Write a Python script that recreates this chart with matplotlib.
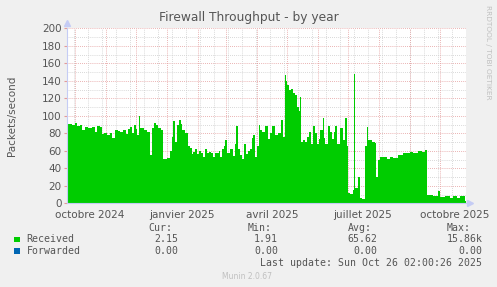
import pandas as pd
import matplotlib
matplotlib.use("Agg")
import matplotlib.pyplot as plt

# Données (jours depuis le 23/09/2024, paquets/s)
debut = "2024-09-23"
jours = [0, 1, 5, 8, 10, 13, 15, 18, 21, 25, 28, 30, 33, 35, 37, 40, 43, 45, 48, 51,
         53, 56, 59, 61, 63, 65, 67, 69, 70, 72, 73, 77, 80, 83, 85, 87, 89, 91, 94, 96,
         100, 103, 105, 106, 108, 110, 112, 114, 115, 118, 121, 123, 125, 126, 128, 130, 132, 134, 136, 138,
         140, 142, 144, 146, 148, 150, 152, 153, 155, 157, 158, 160, 163, 166, 168, 169, 171, 173, 175, 177,
         179, 181, 183, 185, 186, 188, 190, 192, 193, 195, 198, 201, 203, 205, 208, 211, 214, 216, 218, 219,
         220, 222, 224, 226, 228, 230, 232, 233, 234, 236, 238, 240, 242, 244, 246, 248, 250, 252, 253, 256,
         257, 258, 261, 263, 265, 267, 268, 270, 273, 276, 278, 280, 281, 283, 286, 287, 288, 291, 293, 295,
         298, 300, 301, 305, 308, 309, 311, 313, 320, 323, 326, 331, 336, 340, 343, 346, 351, 355, 358, 360,
         366, 371, 373, 378, 383, 386, 390, 393, 398]
recus = [86, 91, 90, 92, 88, 89, 84, 87, 86, 87, 82, 88, 87, 79, 80, 78, 80, 75, 84, 83,
         81, 84, 79, 85, 87, 80, 90, 85, 78, 100, 86, 84, 82, 55, 86, 92, 89, 86, 84, 51,
         52, 60, 76, 94, 70, 89, 95, 91, 84, 80, 66, 63, 56, 59, 62, 56, 60, 58, 53, 62,
         57, 59, 58, 53, 57, 58, 60, 53, 62, 66, 72, 58, 62, 54, 68, 88, 62, 55, 51, 68,
         56, 60, 62, 75, 78, 53, 65, 89, 84, 82, 88, 74, 80, 88, 78, 80, 95, 76, 147, 140,
         135, 130, 131, 126, 124, 110, 105, 122, 70, 72, 70, 76, 82, 68, 88, 80, 68, 74, 84, 97,
         75, 68, 88, 82, 74, 82, 88, 68, 86, 72, 97, 66, 12, 11, 15, 148, 17, 30, 6, 5,
         66, 87, 72, 70, 69, 30, 50, 53, 51, 53, 52, 55, 58, 57, 59, 58, 60, 59, 61, 9,
         8, 14, 7, 8, 6, 8, 6, 8, 3]
fin = 399

series = ["Received", "Forwarded"]
couleurs = ["#00CC00", "#0066B3"]
cur = ["2.15", "0.00"]
mini = ["1.91", "0.00"]
moy = ["65.62", "0.00"]
maxi = ["15.86k", "0.00"]

t0 = pd.Timestamp(debut)
dates = [t0 + pd.Timedelta(days=j) for j in jours] + [t0 + pd.Timedelta(days=fin)]
valeurs = recus + [recus[-1]]

W, H = 497, 287
fig = plt.figure(figsize=(W / 100, H / 100), dpi=100, facecolor="#F0F0F0")
ax = fig.add_axes([67 / W, 1 - 203.3 / H, 399 / W, 175 / H])
ax.set_facecolor("white")

ax.fill_between(dates, valeurs, step="post", color=couleurs[0], linewidth=0, zorder=2)

ax.set_xlim(t0, t0 + pd.Timedelta(days=fin))
ax.set_ylim(0, 200)

# grille façon rrdtool (derrière la surface)
gris, rouge = "#CCCCCC", "#E39A9A"
tirets = (0, (1, 1.5))
for y in range(10, 200, 20):
    ax.axhline(y, color=gris, lw=0.6, ls=tirets, zorder=1)
for y in range(20, 201, 20):
    ax.axhline(y, color=rouge, lw=0.6, ls=tirets, zorder=1)
for d in pd.date_range("2024-09-30", "2025-10-27", freq="14D"):
    ax.axvline(d, color=gris, lw=0.6, ls=tirets, zorder=1)
for d in pd.date_range("2024-10-01", "2025-10-27", freq="MS"):
    ax.axvline(d, color=rouge, lw=0.6, ls=tirets, zorder=1)

ax.set_yticks(range(0, 201, 20))
ax.tick_params(axis="y", length=2, color=rouge, labelsize=7.5, labelcolor="#555555", pad=2)
etiquettes = ["2024-10-16", "2025-01-16", "2025-04-16", "2025-07-16", "2025-10-16"]
ax.set_xticks([pd.Timestamp(e) for e in etiquettes])
ax.set_xticklabels(["octobre 2024", "janvier 2025", "avril 2025", "juillet 2025", "octobre 2025"])
ax.tick_params(axis="x", length=0, labelsize=7.5, labelcolor="#555555", pad=4.5)

for s in ["top", "right"]:
    ax.spines[s].set_visible(False)
for s in ["left", "bottom"]:
    ax.spines[s].set_color("#C5CCF5")
    ax.spines[s].set_linewidth(0.8)
ax.plot(0, 1.03, "^", color="#C5CCF5", ms=4, transform=ax.transAxes, clip_on=False)
ax.plot(1.01, 0, ">", color="#C5CCF5", ms=4, transform=ax.transAxes, clip_on=False)

ax.set_ylabel("Packets/second", fontsize=7.5, color="#555555")
ax.yaxis.set_label_coords(-0.125, 0.5)

fig.text(248.5 / W, 1 - 18 / H, "Firewall Throughput - by year", ha="center", va="center",
         fontsize=8.8, color="#555555")
fig.text(488 / W, 1 - 52 / H, "RRDTOOL / TOBI OETIKER", rotation=270, ha="center", va="center",
         fontsize=5.3, color="#C0C0C0")

mono = "DejaVu Sans Mono"
fs = 7.1
def px(x, y):
    return x / W, 1 - y / H

for lab, xr in zip(["Cur:", "Min:", "Avg:", "Max:"], [172, 272, 372, 471]):
    fig.text(*px(xr, 228), lab, ha="right", va="center", family=mono, fontsize=fs, color="#555555")
for i, nom in enumerate(series):
    yy = 239.5 + i * 11.7
    fig.patches.append(plt.Rectangle(px(14, yy + 2.7), 5.5 / W, 5.5 / H, transform=fig.transFigure,
                                     facecolor=couleurs[i], edgecolor="none"))
    fig.text(*px(26.5, yy), nom, ha="left", va="center", family=mono, fontsize=fs, color="#555555")
    for v, xr in zip([cur[i], mini[i], moy[i], maxi[i]], [178, 278, 377.5, 482.5]):
        fig.text(*px(xr, yy), v, ha="right", va="center", family=mono, fontsize=fs, color="#555555")
fig.text(*px(482.5, 263), "Last update: Sun Oct 26 02:00:26 2025", ha="right", va="center",
         family=mono, fontsize=fs, color="#555555")
fig.text(*px(247.5, 276.5), "Munin 2.0.67", ha="center", va="center", fontsize=5.5, color="#C0C0C0")

fig.savefig("out.png", dpi=100, facecolor=fig.get_facecolor())
